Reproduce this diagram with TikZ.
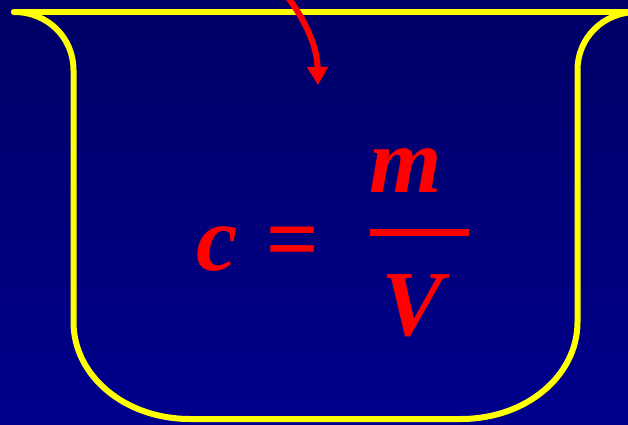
\documentclass[tikz,border=0pt]{standalone}
\usepackage{fontspec}
\setmainfont{Liberation Serif}
\usetikzlibrary{arrows.meta}
\definecolor{bgtop}{RGB}{0, 0, 102}
\definecolor{bgbottom}{RGB}{0, 0, 140}
\definecolor{beakercolor}{RGB}{255, 255, 0}
\definecolor{formulacolor}{RGB}{255, 0, 0}

\begin{document}
\begin{tikzpicture}[
    x=0.02cm, y=-0.02cm,
    beaker/.style={draw=beakercolor, line width=0.12cm, line cap=round, line join=round},
    formula/.style={text=formulacolor, font=\fontsize{53}{56}\selectfont\bfseries\itshape, inner sep=0pt, anchor=base},
    fracbar/.style={draw=formulacolor, line width=0.14cm},
    arrow/.style={draw=formulacolor, line width=0.12cm, -{Triangle[length=0.36cm, width=0.4cm]}}
]

% Background
\useasboundingbox (0,0) rectangle (628,425);
\shade[top color=bgtop, bottom color=bgbottom] (0,0) rectangle (628,425);

% Beaker
\draw[beaker] (14,12) -- (640,12);
\draw[beaker] (14,12) .. controls (48,12) and (73.5,38) .. (73.5,70)
    -- (73.5,322) .. controls (73.5,376) and (125,419) .. (190,419)
    -- (461,419) .. controls (526,419) and (577.5,376) .. (577.5,322)
    -- (577.5,70) .. controls (577.5,38) and (603,12) .. (637,12);

% Formula
\node[formula] (c) at (217,271) {c};
\node[formula] (eq) at (292,271) {=};
\node[formula] (num) at (406,193) {m};
\node[formula] (den) at (413,335) {V};
\coordinate (barleft) at (370,233);
\coordinate (barright) at (469,233);
\draw[fracbar] (barleft) -- (barright);

% Arrow into the beaker
\coordinate (arrowstart) at (287,-4);
\coordinate (arrowend) at (318,85);
\draw[arrow] (arrowstart) .. controls (301,15) and (317,42) .. (arrowend);

\end{tikzpicture}
\end{document}
